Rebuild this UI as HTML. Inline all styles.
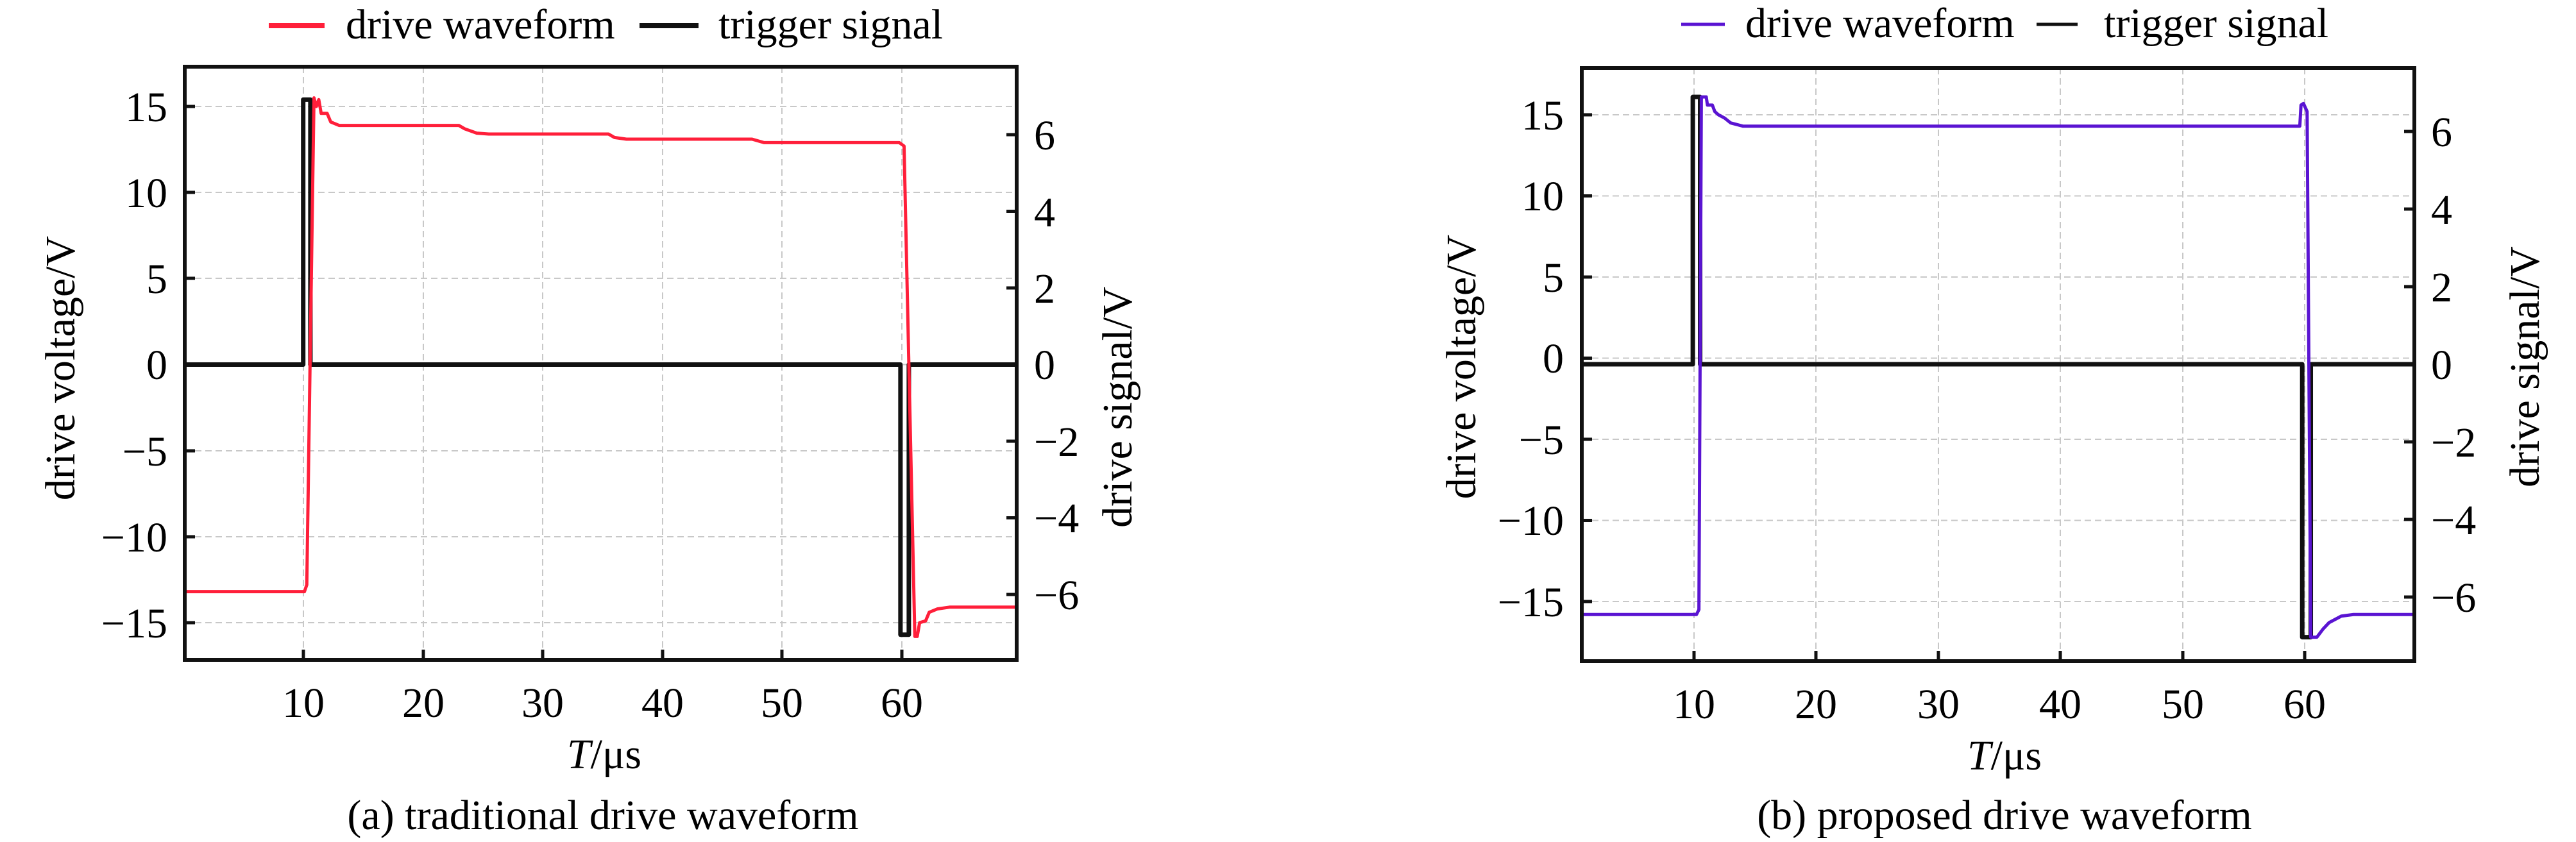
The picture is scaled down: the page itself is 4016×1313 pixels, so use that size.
<!DOCTYPE html>
<html><head><meta charset="utf-8"><style>
html,body{margin:0;padding:0;background:#fff}
svg text{font-family:"Liberation Serif",serif;font-size:66px;fill:#000}
</style></head><body>
<svg width="4016" height="1308" viewBox="0 0 4016 1308" xmlns="http://www.w3.org/2000/svg">
<defs>
<clipPath id="c1"><rect x="288" y="104" width="1297" height="925"/></clipPath>
<clipPath id="c2"><rect x="2466" y="106" width="1298" height="925"/></clipPath>
</defs>

<!-- ===== LEFT PLOT ===== -->
<g stroke="#c8c8c8" stroke-width="2" stroke-dasharray="10,6">
<line x1="288" x2="1585" y1="166" y2="166"/><line x1="288" x2="1585" y1="300" y2="300"/>
<line x1="288" x2="1585" y1="434" y2="434"/><line x1="288" x2="1585" y1="568.5" y2="568.5"/>
<line x1="288" x2="1585" y1="703" y2="703"/><line x1="288" x2="1585" y1="837" y2="837"/>
<line x1="288" x2="1585" y1="971" y2="971"/>
<line y1="104" y2="1029" x1="473" x2="473"/><line y1="104" y2="1029" x1="660" x2="660"/>
<line y1="104" y2="1029" x1="846" x2="846"/><line y1="104" y2="1029" x1="1033" x2="1033"/>
<line y1="104" y2="1029" x1="1219" x2="1219"/><line y1="104" y2="1029" x1="1406" x2="1406"/>
</g>
<g clip-path="url(#c1)">
<g transform="translate(286.1,568.5) scale(18.66,-26.83)" fill="none" stroke-linejoin="round">
<path vector-effect="non-scaling-stroke" stroke="#111" stroke-width="7" d="M0.1,0 L10,0 L10,15.4 L10.6,15.4 L10.6,0 L59.9,0 L59.9,-15.7 L60.6,-15.7 L60.6,0 L69.6,0"/>
<path vector-effect="non-scaling-stroke" stroke="#ff1f3a" stroke-width="5" d="M0,-13.2 L10.1,-13.2 L10.3,-12.8 L10.9,15.5 L11.1,15.0 L11.3,15.4 L11.5,14.6 L12,14.6 L12.3,14.1 L13,13.9 L23,13.9 L23.5,13.7 L24.5,13.45 L25.5,13.4 L35.5,13.4 L36,13.2 L37,13.1 L47.5,13.1 L48.5,12.9 L59.8,12.9 L60.2,12.7 L61.1,-15.8 L61.3,-15.8 L61.5,-15.0 L62,-14.9 L62.3,-14.4 L63,-14.2 L64,-14.1 L69.6,-14.1"/>
</g>
</g>
<rect x="288" y="104" width="1297" height="925" fill="none" stroke="#111" stroke-width="6"/>
<g stroke="#111" stroke-width="5">
<line x1="288" x2="304" y1="166" y2="166"/><line x1="288" x2="304" y1="300" y2="300"/>
<line x1="288" x2="304" y1="434" y2="434"/><line x1="288" x2="304" y1="568.5" y2="568.5"/>
<line x1="288" x2="304" y1="703" y2="703"/><line x1="288" x2="304" y1="837" y2="837"/>
<line x1="288" x2="304" y1="971" y2="971"/>
<line x1="1569" x2="1585" y1="210" y2="210"/><line x1="1569" x2="1585" y1="329.5" y2="329.5"/>
<line x1="1569" x2="1585" y1="449" y2="449"/><line x1="1569" x2="1585" y1="568.5" y2="568.5"/>
<line x1="1569" x2="1585" y1="688" y2="688"/><line x1="1569" x2="1585" y1="807.5" y2="807.5"/>
<line x1="1569" x2="1585" y1="927" y2="927"/>
<line y1="1013" y2="1029" x1="473" x2="473"/><line y1="1013" y2="1029" x1="660" x2="660"/>
<line y1="1013" y2="1029" x1="846" x2="846"/><line y1="1013" y2="1029" x1="1033" x2="1033"/>
<line y1="1013" y2="1029" x1="1219" x2="1219"/><line y1="1013" y2="1029" x1="1406" x2="1406"/>
</g>
<g text-anchor="end">
<text x="261" y="189">15</text><text x="261" y="323">10</text><text x="261" y="457">5</text>
<text x="261" y="591">0</text><text x="261" y="726">−5</text><text x="261" y="860">−10</text>
<text x="261" y="994">−15</text>
</g>
<g text-anchor="start">
<text x="1612" y="233">6</text><text x="1612" y="353">4</text><text x="1612" y="472">2</text>
<text x="1612" y="591">0</text><text x="1612" y="711">−2</text><text x="1612" y="830">−4</text>
<text x="1612" y="950">−6</text>
</g>
<g text-anchor="middle">
<text x="473" y="1118">10</text><text x="660" y="1118">20</text><text x="846" y="1118">30</text>
<text x="1033" y="1118">40</text><text x="1219" y="1118">50</text><text x="1406" y="1118">60</text>
<text x="942" y="1198"><tspan font-style="italic">T</tspan>/μs</text>
<text x="940" y="1293">(a) traditional drive waveform</text>
<text transform="translate(116,574) rotate(-90)">drive voltage/V</text>
<text transform="translate(1764,635) rotate(-90)">drive signal/V</text>
</g>
<line x1="419" x2="506" y1="40" y2="40" stroke="#ff1f3a" stroke-width="8"/>
<text x="539" y="60">drive waveform</text>
<line x1="997" x2="1089" y1="40" y2="40" stroke="#111" stroke-width="8"/>
<text x="1120" y="60">trigger signal</text>

<!-- ===== RIGHT PLOT ===== -->
<g stroke="#c8c8c8" stroke-width="2" stroke-dasharray="10,6">
<line x1="2466" x2="3764" y1="179" y2="179"/><line x1="2466" x2="3764" y1="305.5" y2="305.5"/>
<line x1="2466" x2="3764" y1="432" y2="432"/><line x1="2466" x2="3764" y1="558.5" y2="558.5"/>
<line x1="2466" x2="3764" y1="685" y2="685"/><line x1="2466" x2="3764" y1="811.5" y2="811.5"/>
<line x1="2466" x2="3764" y1="938" y2="938"/>
<line y1="106" y2="1031" x1="2641" x2="2641"/><line y1="106" y2="1031" x1="2831" x2="2831"/>
<line y1="106" y2="1031" x1="3022" x2="3022"/><line y1="106" y2="1031" x1="3212" x2="3212"/>
<line y1="106" y2="1031" x1="3403" x2="3403"/><line y1="106" y2="1031" x1="3593" x2="3593"/>
</g>
<g clip-path="url(#c2)">
<g transform="translate(2450.6,558.5) scale(19.04,-25.3)" fill="none" stroke-linejoin="round">
<path vector-effect="non-scaling-stroke" stroke="#111" stroke-width="7" d="M0.8,-0.375 L9.9,-0.375 L9.9,16.1 L10.5,16.1 L10.5,-0.375 L59.8,-0.375 L59.8,-17.2 L60.5,-17.2 L60.5,-0.375 L70,-0.375"/>
<path vector-effect="non-scaling-stroke" stroke="#5a14d2" stroke-width="5" d="M0.8,-15.8 L10.2,-15.8 L10.4,-15.5 L10.6,16.1 L11.0,16.1 L11.1,15.6 L11.5,15.6 L11.7,15.2 L12,15.0 L12.5,14.8 L13,14.5 L14,14.3 L59.6,14.3 L59.7,15.6 L59.9,15.7 L60.2,15.2 L60.5,-17.2 L61,-17.2 L61.5,-16.7 L62,-16.3 L63,-15.9 L64,-15.8 L70,-15.8"/>
</g>
</g>
<rect x="2466" y="106" width="1298" height="925" fill="none" stroke="#111" stroke-width="6"/>
<g stroke="#111" stroke-width="5">
<line x1="2466" x2="2482" y1="179" y2="179"/><line x1="2466" x2="2482" y1="305.5" y2="305.5"/>
<line x1="2466" x2="2482" y1="432" y2="432"/><line x1="2466" x2="2482" y1="558.5" y2="558.5"/>
<line x1="2466" x2="2482" y1="685" y2="685"/><line x1="2466" x2="2482" y1="811.5" y2="811.5"/>
<line x1="2466" x2="2482" y1="938" y2="938"/>
<line x1="3748" x2="3764" y1="205" y2="205"/><line x1="3748" x2="3764" y1="326" y2="326"/>
<line x1="3748" x2="3764" y1="447" y2="447"/><line x1="3748" x2="3764" y1="568" y2="568"/>
<line x1="3748" x2="3764" y1="689" y2="689"/><line x1="3748" x2="3764" y1="810" y2="810"/>
<line x1="3748" x2="3764" y1="931" y2="931"/>
<line y1="1015" y2="1031" x1="2641" x2="2641"/><line y1="1015" y2="1031" x1="2831" x2="2831"/>
<line y1="1015" y2="1031" x1="3022" x2="3022"/><line y1="1015" y2="1031" x1="3212" x2="3212"/>
<line y1="1015" y2="1031" x1="3403" x2="3403"/><line y1="1015" y2="1031" x1="3593" x2="3593"/>
</g>
<g text-anchor="end">
<text x="2438" y="202">15</text><text x="2438" y="328">10</text><text x="2438" y="455">5</text>
<text x="2438" y="581">0</text><text x="2438" y="708">−5</text><text x="2438" y="834">−10</text>
<text x="2438" y="961">−15</text>
</g>
<g text-anchor="start">
<text x="3790" y="228">6</text><text x="3790" y="349">4</text><text x="3790" y="470">2</text>
<text x="3790" y="591">0</text><text x="3790" y="712">−2</text><text x="3790" y="833">−4</text>
<text x="3790" y="954">−6</text>
</g>
<g text-anchor="middle">
<text x="2641" y="1120">10</text><text x="2831" y="1120">20</text><text x="3022" y="1120">30</text>
<text x="3212" y="1120">40</text><text x="3403" y="1120">50</text><text x="3593" y="1120">60</text>
<text x="3125" y="1200"><tspan font-style="italic">T</tspan>/μs</text>
<text x="3125" y="1293">(b) proposed drive waveform</text>
<text transform="translate(2300,572) rotate(-90)">drive voltage/V</text>
<text transform="translate(3958,572) rotate(-90)">drive signal/V</text>
</g>
<line x1="2621" x2="2689" y1="38" y2="38" stroke="#5a14d2" stroke-width="5"/>
<text x="2721" y="58">drive waveform</text>
<line x1="3175" x2="3239" y1="38" y2="38" stroke="#111" stroke-width="5"/>
<text x="3280" y="58">trigger signal</text>
</svg>
</body></html>
